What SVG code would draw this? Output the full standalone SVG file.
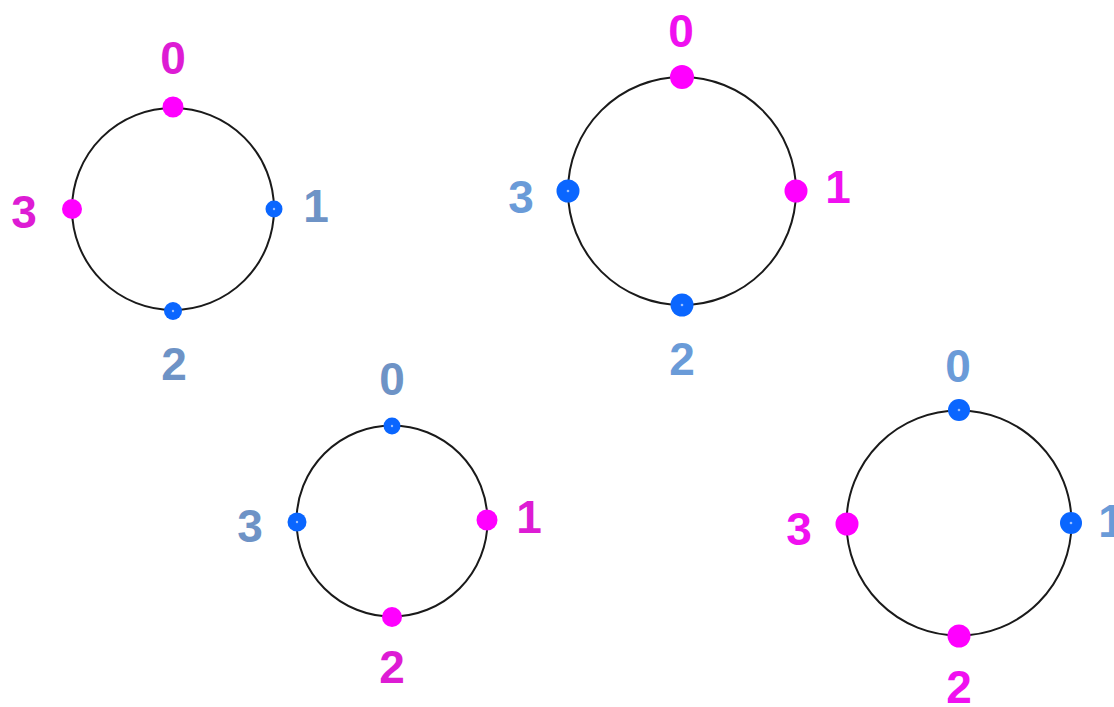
<svg xmlns="http://www.w3.org/2000/svg" width="1114" height="707" viewBox="0 0 1114 707">
<style>
.ring{fill:none;stroke:#1a1a1a;stroke-width:2}
.pm{fill:#FF00FF}
.pb{fill:#0A66FF}
.ctr{fill:#9CC0FF}
.lbl{font-family:"Liberation Sans",Arial,sans-serif;font-weight:bold;font-size:46px;text-anchor:middle}
.tm{fill:#F010F0}
.tm2{fill:#DD1CD4}
.tb{fill:#6A9BD8}
.tb2{fill:#6E93C6}
</style>
<rect width="1114" height="707" fill="#ffffff"/>
<g id="ring1">
  <circle class="ring" cx="173" cy="209" r="101"/>
  <circle class="pm" cx="173" cy="107" r="10.5"/>
  <circle class="pb" cx="274" cy="209" r="8.5"/>
  <circle class="ctr" cx="274" cy="209" r="1.2"/>
  <circle class="pb" cx="173" cy="311" r="9"/>
  <circle class="ctr" cx="173" cy="311" r="1.2"/>
  <circle class="pm" cx="72" cy="209" r="10"/>
  <text class="lbl tm2" x="173" y="74">0</text>
  <text class="lbl tb2" x="316" y="222">1</text>
  <text class="lbl tb2" x="174" y="380">2</text>
  <text class="lbl tm2" x="24" y="228">3</text>
</g>
<g id="ring2">
  <circle class="ring" cx="682" cy="191" r="114"/>
  <circle class="pm" cx="682" cy="77" r="12"/>
  <circle class="pm" cx="796" cy="191" r="11.5"/>
  <circle class="pb" cx="682" cy="305" r="11.5"/>
  <circle class="ctr" cx="682" cy="305" r="1.3"/>
  <circle class="pb" cx="568" cy="191" r="11.5"/>
  <circle class="ctr" cx="568" cy="191" r="1.3"/>
  <text class="lbl tm" x="681" y="47">0</text>
  <text class="lbl tm" x="838" y="203">1</text>
  <text class="lbl tb" x="682" y="375">2</text>
  <text class="lbl tb" x="521" y="213">3</text>
</g>
<g id="ring3">
  <circle class="ring" cx="392" cy="521" r="95.5"/>
  <circle class="pb" cx="392" cy="426" r="8.5"/>
  <circle class="ctr" cx="392" cy="426" r="1.2"/>
  <circle class="pm" cx="487" cy="520" r="10.5"/>
  <circle class="pm" cx="392" cy="617" r="10"/>
  <circle class="pb" cx="297" cy="522" r="9.5"/>
  <circle class="ctr" cx="297" cy="522" r="1.2"/>
  <text class="lbl tb2" x="392" y="395">0</text>
  <text class="lbl tm2" x="529" y="533">1</text>
  <text class="lbl tm2" x="392" y="683">2</text>
  <text class="lbl tb2" x="250" y="542">3</text>
</g>
<g id="ring4">
  <circle class="ring" cx="959" cy="523" r="112.5"/>
  <circle class="pb" cx="959" cy="410" r="11"/>
  <circle class="ctr" cx="959" cy="410" r="1.3"/>
  <circle class="pb" cx="1071" cy="523" r="11"/>
  <circle class="ctr" cx="1071" cy="523" r="1.3"/>
  <circle class="pm" cx="959" cy="636" r="11.5"/>
  <circle class="pm" cx="847" cy="524" r="11.5"/>
  <text class="lbl tb" x="958" y="382">0</text>
  <text class="lbl tb" x="1111" y="537">1</text>
  <text class="lbl tm" x="959" y="703">2</text>
  <text class="lbl tm" x="799" y="545">3</text>
</g>
</svg>
